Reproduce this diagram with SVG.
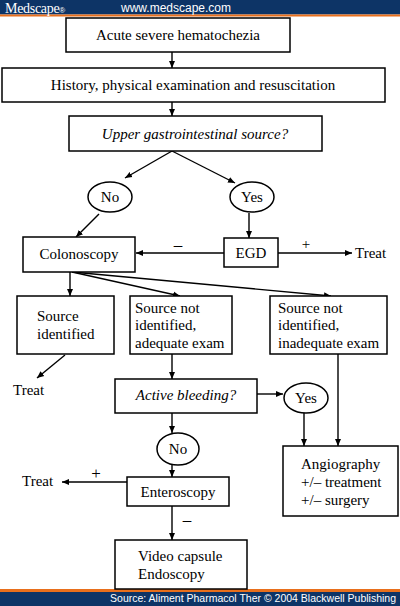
<svg xmlns="http://www.w3.org/2000/svg" width="400" height="606" viewBox="0 0 400 606">
<defs>
<marker id="ah" markerWidth="8" markerHeight="8" refX="7" refY="4" orient="auto" markerUnits="userSpaceOnUse">
<path d="M0,1 L7,4 L0,7 Z" fill="#000"/>
</marker>
<style>
.box{fill:#fff;stroke:#000;stroke-width:1.5}
.t{font-family:"Liberation Serif","Times New Roman",serif;font-size:15px;fill:#000}
.c{text-anchor:middle}
.i{font-style:italic}
.s{font-size:17px}
.ln{stroke:#000;stroke-width:1.4;fill:none}
.a{marker-end:url(#ah)}
</style>
</defs>
<rect x="0" y="0" width="400" height="606" fill="#fff"/>
<!-- header -->
<g id="header">
<rect x="0" y="0" width="400" height="14.5" fill="#0d3466"/>
<rect x="0" y="14.5" width="400" height="2" fill="#e86f1c"/>
<text x="5" y="12.5" font-family="Liberation Serif,serif" font-size="14" fill="#fff" letter-spacing="-0.3">Medscape<tspan font-size="8" font-family="Liberation Sans,sans-serif" letter-spacing="0">®</tspan></text>
<text x="121" y="11.5" font-family="Liberation Sans,Arial,sans-serif" font-size="12" fill="#fff">www.medscape.com</text>
</g>
<!-- footer -->
<g id="footer">
<rect x="0" y="589" width="400" height="3" fill="#e86f1c"/>
<rect x="0" y="592" width="400" height="14" fill="#0d3466"/>
<text x="396" y="602" text-anchor="end" font-family="Liberation Sans,Arial,sans-serif" font-size="10.5" fill="#fff">Source: Aliment Pharmacol Ther © 2004 Blackwell Publishing</text>
</g>
<!-- connectors -->
<g id="connectors">
<line class="ln a" x1="172" y1="52" x2="172" y2="68"/>
<line class="ln a" x1="172" y1="102" x2="172" y2="116"/>
<line class="ln a" x1="172" y1="151" x2="125" y2="178"/>
<line class="ln a" x1="172" y1="151" x2="235" y2="183"/>
<line class="ln a" x1="99" y1="214" x2="76" y2="237"/>
<line class="ln a" x1="249" y1="213" x2="249" y2="238"/>
<line class="ln a" x1="224" y1="253" x2="136" y2="253"/>
<line class="ln a" x1="278" y1="253" x2="352" y2="253"/>
<line class="ln a" x1="70" y1="272" x2="70" y2="296"/>
<line class="ln a" x1="72" y1="272" x2="180" y2="296"/>
<line class="ln a" x1="72" y1="272" x2="331" y2="296"/>
<line class="ln a" x1="65" y1="355" x2="37" y2="378"/>
<line class="ln a" x1="172" y1="354" x2="172" y2="379"/>
<line class="ln a" x1="257" y1="394" x2="283" y2="394"/>
<line class="ln a" x1="304" y1="413" x2="304" y2="446"/>
<line class="ln a" x1="338" y1="354" x2="338" y2="446"/>
<line class="ln a" x1="172" y1="413" x2="172" y2="433"/>
<line class="ln a" x1="172" y1="465" x2="172" y2="477"/>
<line class="ln a" x1="127" y1="482" x2="62" y2="482"/>
<line class="ln a" x1="172" y1="506" x2="172" y2="540"/>
<text class="t c s" x="178" y="250">–</text>
<text class="t c" x="306" y="249">+</text>
<text class="t" x="355" y="258">Treat</text>
<text class="t" x="13" y="395">Treat</text>
<text class="t c s" x="96" y="479">+</text>
<text class="t" x="22" y="486">Treat</text>
<text class="t c s" x="187" y="525">–</text>
</g>
<!-- nodes -->
<g id="n1"><rect class="box" x="66" y="18" width="224" height="34"/><text class="t c" x="178" y="40">Acute severe hematochezia</text></g>
<g id="n2"><rect class="box" x="2" y="68" width="383" height="34"/><text class="t c" x="193" y="90">History, physical examination and resuscitation</text></g>
<g id="n3"><rect class="box" x="69" y="116" width="253" height="35"/><text class="t c i" x="195" y="139">Upper gastrointestinal source?</text></g>
<g id="no1"><ellipse class="box" cx="110" cy="197" rx="22" ry="15"/><text class="t c" x="110" y="202">No</text></g>
<g id="yes1"><ellipse class="box" cx="252" cy="197" rx="22" ry="15"/><text class="t c" x="252" y="202">Yes</text></g>
<g id="colon"><rect class="box" x="23" y="237" width="112" height="35"/><text class="t c" x="79" y="259">Colonoscopy</text></g>
<g id="egd"><rect class="box" x="224" y="238" width="54" height="29"/><text class="t c" x="251" y="258">EGD</text></g>
<g id="srcid"><rect class="box" x="17" y="296" width="97" height="58"/><text class="t" x="37" y="321">Source</text><text class="t" x="37" y="339">identified</text></g>
<g id="srcadq"><rect class="box" x="130" y="296" width="102" height="58"/><text class="t" x="135" y="313">Source not</text><text class="t" x="135" y="330">identified,</text><text class="t" x="135" y="348">adequate exam</text></g>
<g id="srcinadq"><rect class="box" x="270" y="296" width="117" height="58"/><text class="t" x="278" y="313">Source not</text><text class="t" x="278" y="330">identified,</text><text class="t" x="278" y="348">inadequate exam</text></g>
<g id="active"><rect class="box" x="115" y="379" width="142" height="34"/><text class="t c i" x="186" y="400">Active bleeding?</text></g>
<g id="yes2"><ellipse class="box" cx="306" cy="398" rx="22" ry="15"/><text class="t c" x="306" y="403">Yes</text></g>
<g id="no2"><ellipse class="box" cx="178" cy="449" rx="21" ry="16"/><text class="t c" x="178" y="454">No</text></g>
<g id="entero"><rect class="box" x="127" y="477" width="102" height="29"/><text class="t c" x="178" y="497">Enteroscopy</text></g>
<g id="video"><rect class="box" x="115" y="540" width="132" height="49"/><text class="t" x="138" y="561">Video capsule</text><text class="t" x="138" y="579">Endoscopy</text></g>
<g id="angio"><rect class="box" x="283" y="446" width="115" height="70"/><text class="t" x="301" y="469">Angiography</text><text class="t" x="301" y="487">+/– treatment</text><text class="t" x="301" y="505">+/–  surgery</text></g>
</svg>
